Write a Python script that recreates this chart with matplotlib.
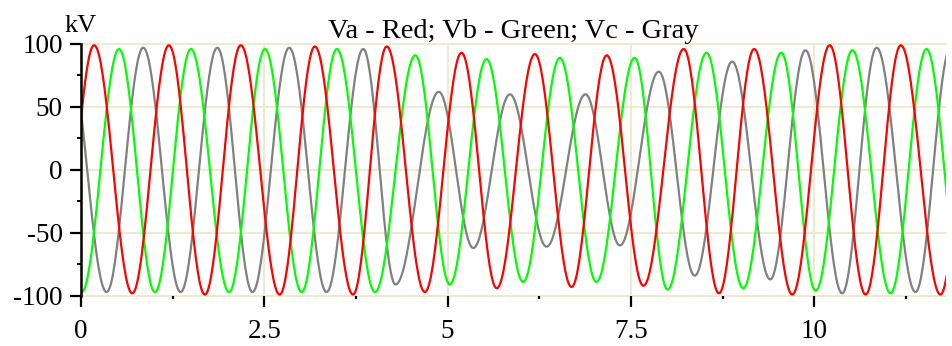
import numpy as np
import matplotlib
matplotlib.use("Agg")
import matplotlib.pyplot as plt
from matplotlib.ticker import MultipleLocator, FixedLocator

plt.rcParams['font.family'] = ['Liberation Serif', 'DejaVu Serif']
plt.rcParams['axes.unicode_minus'] = False

# Extremes (time, kV) for each phase
va_t = [-0.31, 0.18, 0.70, 1.20, 1.69, 2.18, 2.71, 3.19, 3.71, 4.17, 4.69, 5.19, 5.67,
        6.19, 6.69, 7.17, 7.67, 8.22, 8.70, 9.18, 9.70, 10.21, 10.70, 11.18, 11.72, 12.20]
va_v = [-99, 99, -98, 99, -99, 99, -99, 98, -99, 98, -97, 93, -94,
        92, -93, 91, -92, 96, -98, 96, -99, 99, -99, 99, -99, 99]

vb_t = [-0.49, 0.01, 0.52, 1.01, 1.50, 2.02, 2.51, 3.01, 3.49, 4.01, 4.56, 5.03, 5.53,
        6.03, 6.53, 7.03, 7.55, 8.00, 8.53, 9.03, 9.55, 10.02, 10.52, 11.04, 11.53, 12.02]
vb_v = [96, -97, 96, -97, 96, -97, 96, -97, 96, -97, 91, -91, 88,
        -89, 89, -89, 89, -95, 93, -94, 93, -96, 95, -98, 96, -97]

vc_t = [-0.18, 0.35, 0.85, 1.36, 1.86, 2.34, 2.84, 3.35, 3.85, 4.29, 4.88, 5.35, 5.85,
        6.35, 6.88, 7.35, 7.88, 8.37, 8.88, 9.40, 9.88, 10.38, 10.85, 11.38, 11.86]
vc_v = [97, -97, 97, -97, 97, -97, 97, -97, 96, -91, 62, -62, 60,
        -61, 60, -60, 78, -84, 86, -87, 95, -98, 97, -97, 97]

x_ticks = [0, 2.5, 5, 7.5, 10]
x_tick_labels = ['0', '2.5', '5', '7.5', '10']
y_ticks = [-100, -50, 0, 50, 100]
y_tick_labels = ['-100', '-50', '0', '50', '100']


def waveform(tt, vv, n=40):
    xs, ys = [], []
    for i in range(len(tt) - 1):
        t0, t1, v0, v1 = tt[i], tt[i + 1], vv[i], vv[i + 1]
        s = np.linspace(0, 1, n, endpoint=False)
        xs.append(t0 + (t1 - t0) * s)
        ys.append((v0 + v1) / 2 + (v0 - v1) / 2 * np.cos(np.pi * s))
    xs.append([tt[-1]]); ys.append([vv[-1]])
    return np.concatenate(xs), np.concatenate(ys)


fig = plt.figure(figsize=(9.52, 3.46), dpi=100)
ax = fig.add_axes([0.085, 0.145, 0.909, 0.728])

grid_c = '#ECE9C6'
for xv in x_ticks:
    ax.axvline(xv, color=grid_c, lw=1.3, zorder=0, clip_on=False)
for yv in y_ticks:
    ax.axhline(yv, color=grid_c, lw=1.3, zorder=0, clip_on=False)

for tt, vv, c in [(vc_t, vc_v, '#808080'), (vb_t, vb_v, '#00FF00'), (va_t, va_v, '#FF0000')]:
    x, y = waveform(tt, vv)
    ax.plot(x, y, color=c, lw=1.6, zorder=2)

ax.set_xlim(0, 11.8)
ax.set_ylim(-100, 100)

for s in ['top', 'right', 'bottom']:
    ax.spines[s].set_visible(False)
ax.spines['left'].set_color('black')
ax.spines['left'].set_linewidth(1.8)
ax.spines['left'].set_zorder(3)

ax.set_xticks(x_ticks)
ax.set_xticklabels(x_tick_labels)
ax.set_yticks(y_ticks)
ax.set_yticklabels(y_tick_labels)
ax.xaxis.set_minor_locator(FixedLocator([1.25, 3.75, 6.25, 8.75, 11.25]))
ax.yaxis.set_minor_locator(MultipleLocator(25))

ax.tick_params(axis='both', which='major', labelsize=19.5, colors='black', width=1.6, direction='out')
ax.tick_params(axis='y', which='major', length=8, pad=5)
ax.tick_params(axis='x', which='major', length=8, pad=9)
ax.tick_params(axis='y', which='minor', length=3, width=1.4)
ax.tick_params(axis='x', which='minor', length=2.5, width=1.6)

ax.set_title('Va - Red; Vb - Green; Vc - Gray', fontsize=20.5, pad=3)
fig.text(65 / 952, 1 - 32 / 346, 'kV', fontsize=19, ha='left', va='baseline')

fig.savefig('out.png', dpi=100)
